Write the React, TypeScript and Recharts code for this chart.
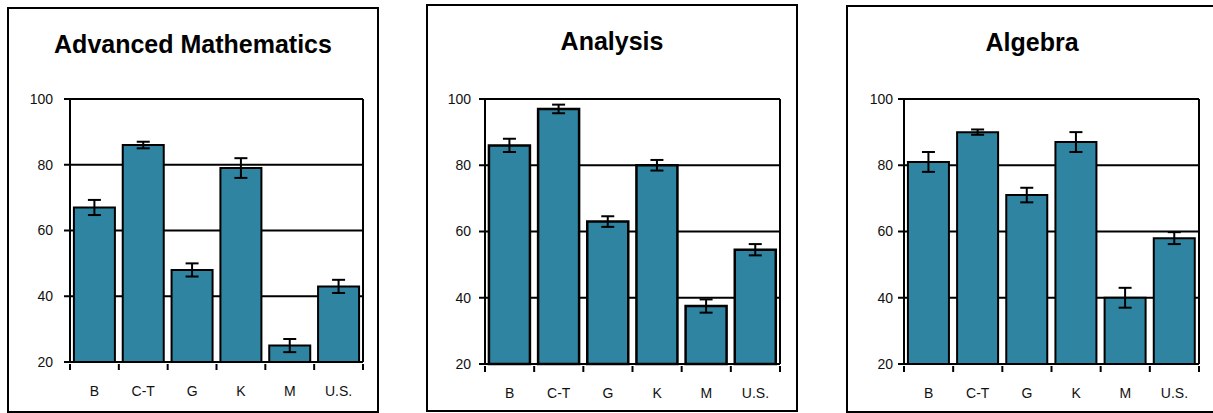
import React from 'react'
import { BarChart, Bar, ErrorBar, XAxis, YAxis, CartesianGrid } from 'recharts'

const categories = ['B', 'C-T', 'G', 'K', 'M', 'U.S.']
const yTicks = [20, 40, 60, 80, 100]

const mathValues = [67, 86, 48, 79, 25, 43]
const mathErrors = [2.3, 1, 2, 3, 2, 2]

const analysisValues = [86, 97, 63, 80, 37.5, 54.5]
const analysisErrors = [2, 1.3, 1.6, 1.6, 2, 1.7]

const algebraValues = [81, 90, 71, 87, 40, 58]
const algebraErrors = [3, 0.8, 2.2, 3, 3, 1.8]

const FONT = '"Liberation Sans", Arial, sans-serif'
const BAR_FILL = '#2F85A1'
const TICK_FONT = 14

interface Box { x: number; y: number; w: number; h: number }
interface Plot { left: number; top: number; right: number; bottom: number }

interface PanelProps {
  title: string
  values: number[]
  errors: number[]
  box: Box
  plot: Plot
  yGap: number
  barStroke: number
}

const BORDER = 2
const Y_AXIS_W = 50
const X_AXIS_H = 40

// category label plus tick marks on the band edges (Excel style)
function CatTick(props: any) {
  const { x, y, payload, index, visibleTicksCount } = props
  const half = payload?.offset ?? 0
  const last = index === visibleTicksCount - 1
  return (
    <g>
      <line x1={x - half} x2={x - half} y1={y} y2={y + 6} stroke="#000" strokeWidth={2} />
      {last && <line x1={x + half} x2={x + half} y1={y} y2={y + 6} stroke="#000" strokeWidth={2} />}
      <text x={x} y={y + 22} dy="0.71em" textAnchor="middle" fontSize={TICK_FONT} fill="#111" fontFamily={FONT}>
        {payload.value}
      </text>
    </g>
  )
}

function Panel({ title, values, errors, box, plot, yGap, barStroke }: PanelProps) {
  const data = categories.map((name, i) => ({ name, value: values[i], err: errors[i] }))
  const innerX = box.x + BORDER
  const innerY = box.y + BORDER
  const chartW = box.w - BORDER * 2
  const chartH = box.h - BORDER * 2
  const margin = {
    left: plot.left - innerX - Y_AXIS_W,
    top: plot.top - innerY,
    right: innerX + chartW - plot.right,
    bottom: innerY + chartH - plot.bottom - X_AXIS_H,
  }

  return (
    <div
      style={{
        position: 'absolute',
        left: box.x,
        top: box.y,
        width: box.w,
        height: box.h,
        border: `${BORDER}px solid #000`,
        boxSizing: 'border-box',
        background: '#fff',
      }}
    >
      <div
        style={{
          position: 'absolute',
          left: 0,
          right: 0,
          top: 20,
          textAlign: 'center',
          fontFamily: FONT,
          fontWeight: 'bold',
          fontSize: 25,
          lineHeight: '30px',
          color: '#000',
        }}
      >
        {title}
      </div>
      <div style={{ position: 'absolute', left: 0, top: 0 }}>
        <BarChart width={chartW} height={chartH} data={data} margin={margin} barCategoryGap="8%">
          <CartesianGrid
            stroke="#000"
            strokeWidth={2}
            verticalCoordinatesGenerator={({ offset }: any) => [offset.left, offset.left + offset.width]}
          />
          <XAxis
            dataKey="name"
            height={X_AXIS_H}
            axisLine={{ stroke: '#000', strokeWidth: 2 }}
            tickLine={false}
            tickSize={0}
            interval={0}
            tick={<CatTick />}
          />
          <YAxis
            domain={[20, 100]}
            ticks={yTicks}
            width={Y_AXIS_W}
            tickSize={6}
            tickMargin={yGap}
            axisLine={{ stroke: '#000', strokeWidth: 2 }}
            tickLine={{ stroke: '#000', strokeWidth: 2 }}
            tick={{ fontSize: TICK_FONT, fill: '#111', fontFamily: FONT }}
          />
          <Bar dataKey="value" fill={BAR_FILL} stroke="#000" strokeWidth={barStroke} isAnimationActive={false}>
            <ErrorBar dataKey="err" width={6.5} stroke="#000" strokeWidth={2} isAnimationActive={false} />
          </Bar>
        </BarChart>
      </div>
    </div>
  )
}

export default function App() {
  return (
    <div style={{ position: 'absolute', left: 0, top: 0, width: 1213, height: 413, overflow: 'hidden', background: '#fff' }}>
      <Panel
        title="Advanced Mathematics"
        values={mathValues}
        errors={mathErrors}
        box={{ x: 7, y: 7, w: 372, h: 406 }}
        plot={{ left: 70, top: 99, right: 363, bottom: 362 }}
        yGap={11}
        barStroke={2}
      />
      <Panel
        title="Analysis"
        values={analysisValues}
        errors={analysisErrors}
        box={{ x: 426, y: 4, w: 372, h: 408 }}
        plot={{ left: 485, top: 99, right: 780, bottom: 364 }}
        yGap={8}
        barStroke={2.5}
      />
      <Panel
        title="Algebra"
        values={algebraValues}
        errors={algebraErrors}
        box={{ x: 846, y: 5, w: 372, h: 408 }}
        plot={{ left: 904, top: 99, right: 1199, bottom: 364 }}
        yGap={5}
        barStroke={2}
      />
    </div>
  )
}
